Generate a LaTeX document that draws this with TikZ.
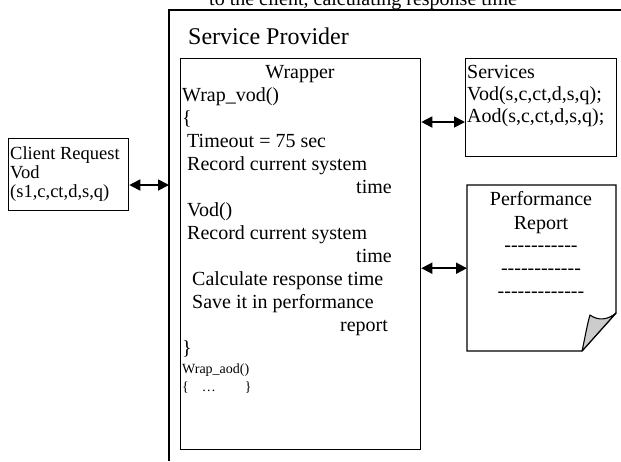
\documentclass[tikz,border=0pt]{standalone}
\usepackage{fontspec}
\setmainfont{Liberation Serif}
\usetikzlibrary{arrows.meta}
\begin{document}
\begin{tikzpicture}[x=1pt,y=-1pt,
  box/.style={draw, line width=1.3pt, inner sep=0pt, anchor=north west},
  txt/.style={inner sep=0pt, anchor=base west, font=\fontsize{20}{23}\selectfont},
  ctxt/.style={inner sep=0pt, anchor=base, font=\fontsize{20}{23}\selectfont},
  small/.style={inner sep=0pt, anchor=base west, font=\fontsize{14}{18}\selectfont},
  tip/.tip={Triangle[length=11pt,width=11pt]},
  link/.style={line width=1.8pt, tip-tip}]
\useasboundingbox (0,0) rectangle (621,461);

% caption line running off the top edge
\begin{scope}
  \clip (0,0) rectangle (621,461);
  \node[txt] (caption) at (209,5) {to the client, calculating response time};
\end{scope}

% service provider frame (open to the right and bottom)
\draw[line width=1.1pt] (621,10) -- (169,10) -- (169,461);
\coordinate (spedge) at (169,185);
\node[inner sep=0pt, anchor=base west, font=\fontsize{24}{28}\selectfont] (sptitle) at (188,44) {Service Provider};

% client request
\node[box, minimum width=120pt, minimum height=72pt] (client) at (8,138) {};
\foreach \t [count=\i] in {Client Request, Vod, {(s1,c,ct,d,s,q)}}
  \node[inner sep=0pt, anchor=base west, font=\fontsize{18.5}{19}\selectfont] (c\i) at (10,{159+19*(\i-1)}) {\t};

% wrapper
\node[box, minimum width=240pt, minimum height=391pt] (wrapper) at (180,58) {};
\node[ctxt] (wtitle) at (300,78) {Wrapper};
\foreach \t [count=\i] in {
    Wrap\_vod(),
    \{,
    \hspace*{5pt}Timeout = 75 sec,
    \hspace*{5pt}Record current system,
    \hspace*{174pt}time,
    \hspace*{5pt}Vod(),
    \hspace*{5pt}Record current system,
    \hspace*{174pt}time,
    \hspace*{10pt}Calculate response time,
    \hspace*{10pt}Save it in performance,
    \hspace*{158pt}report,
    \}}
  \node[txt] (w\i) at (182,{101+23*(\i-1)}) {\t};
\node[small] (aod) at (182,373) {Wrap\_aod()};
\node[small] (aodbody) at (182,391) {\{\hspace*{13pt}…\hspace*{29pt}\}};

% services
\node[box, minimum width=151pt, minimum height=98pt] (services) at (465,58) {};
\foreach \t [count=\i] in {Services, {Vod(s,c,ct,d,s,q);}, {Aod(s,c,ct,d,s,q);}}
  \node[txt] (s\i) at (467,{78+22*(\i-1)}) {\t};

% performance report (page with curled corner)
\node[inner sep=0pt, minimum width=149pt, minimum height=166pt, anchor=north west] (report) at (467,185) {};
\draw[line width=1.3pt, line join=miter]
  (467,185) -- (616,185) -- (616,313) -- (582,351) -- (467,351) -- cycle;
\draw[line width=1.1pt, fill=gray!40, line join=round]
  (582,351) .. controls (585,338) and (587,325) .. (590,315)
  .. controls (598,321) and (608,320) .. (616,313) -- cycle;
\node[ctxt] (r1) at (541,205) {Performance};
\node[ctxt] (r2) at (541,229) {Report};
\node[ctxt] (r3) at (541,251) {-{}-{}-{}-{}-{}-{}-{}-{}-{}-{}-};
\node[ctxt] (r4) at (541,274) {-{}-{}-{}-{}-{}-{}-{}-{}-{}-{}-{}-};
\node[ctxt] (r5) at (541,297) {-{}-{}-{}-{}-{}-{}-{}-{}-{}-{}-{}-{}-};

% connectors
\draw[link] (client.east |- spedge) -- (spedge);
\draw[link] (wrapper.east |- 0,122) -- (services.west |- 0,122);
\draw[link] (wrapper.east |- report.west) -- (report.west);
\end{tikzpicture}
\end{document}
